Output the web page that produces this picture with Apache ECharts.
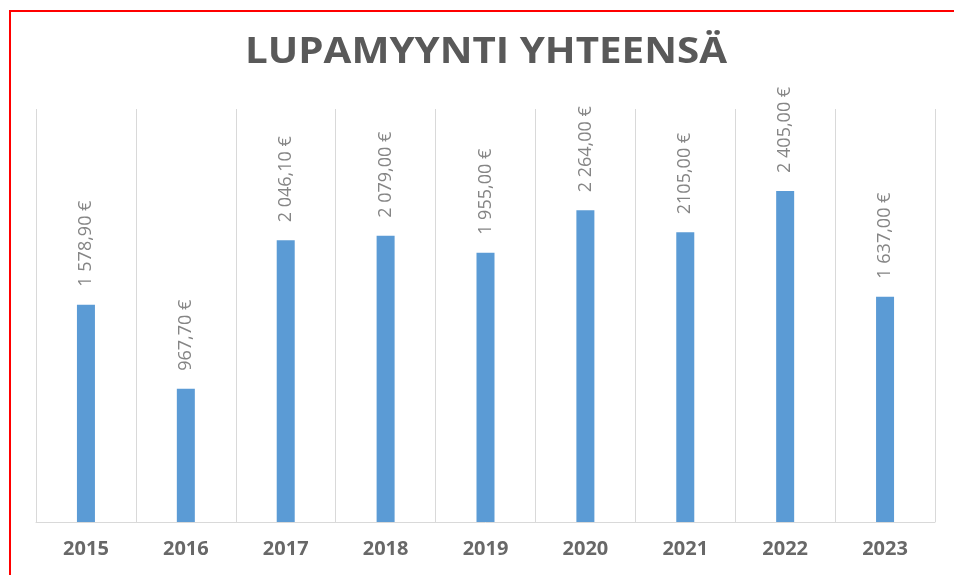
<!DOCTYPE html>
<html>
<head>
<meta charset="utf-8">
<script src="https://cdn.jsdelivr.net/npm/echarts@6/dist/echarts.min.js"></script>
<style>
  html, body { margin: 0; padding: 0; background: #fff; }
  #vis { width: 954px; height: 575px; }
</style>
</head>
<body>
<div id="vis"></div>
<script>
// data
const years = ["2015", "2016", "2017", "2018", "2019", "2020", "2021", "2022", "2023"];
const sales = [1578.9, 967.7, 2046.1, 2079.0, 1955.0, 2264.0, 2105.0, 2405.0, 1637.0];
const labels = ["1 578,90 €", "967,70 €", "2 046,10 €", "2 079,00 €", "1 955,00 €",
                "2 264,00 €", "2105,00 €", "2 405,00 €", "1 637,00 €"];
const chartTitle = "LUPAMYYNTI YHTEENSÄ";

const chart = echarts.init(document.getElementById("vis"));

const options = {
  animation: false,
  grid: {
    left: 36,
    right: 19,
    top: 109,
    bottom: 53
  },
  xAxis: {
    type: "category",
    data: years,
    axisLine: { lineStyle: { color: "#d9d9d9", width: 1 } },
    axisTick: { show: false },
    splitLine: { show: true, lineStyle: { color: "#d9d9d9", width: 1 } },
    axisLabel: {
      margin: 17,
      fontFamily: "Open Sans",
      fontWeight: "bold",
      fontSize: 20,
      color: "#686868"
    }
  },
  yAxis: {
    type: "value",
    min: 0,
    max: 3000,
    show: false,
    splitLine: { show: false }
  },
  series: [
    {
      type: "bar",
      data: sales,
      barWidth: 18,
      itemStyle: { color: "#5b9bd5" },
      label: {
        show: true,
        position: "top",
        rotate: 90,
        align: "left",
        verticalAlign: "middle",
        distance: 18,
        fontFamily: "Open Sans",
        fontSize: 18,
        color: "#858585",
        formatter: p => labels[p.dataIndex]
      }
    }
  ],
  graphic: [
    {
      // title, widened a little to match the spaced-out lettering
      type: "text",
      x: 486,
      y: 53,
      scaleX: 1.12,
      style: {
        text: chartTitle,
        font: "bold 36px 'Open Sans'",
        fill: "#595959",
        align: "center",
        verticalAlign: "middle"
      }
    },
    {
      type: "line",
      shape: { x1: 9, y1: 11, x2: 954, y2: 11 },
      style: { stroke: "#ff0000", lineWidth: 2 }
    },
    {
      type: "line",
      shape: { x1: 10, y1: 10, x2: 10, y2: 575 },
      style: { stroke: "#ff0000", lineWidth: 2 }
    }
  ]
};

chart.setOption(options);
</script>
</body>
</html>
